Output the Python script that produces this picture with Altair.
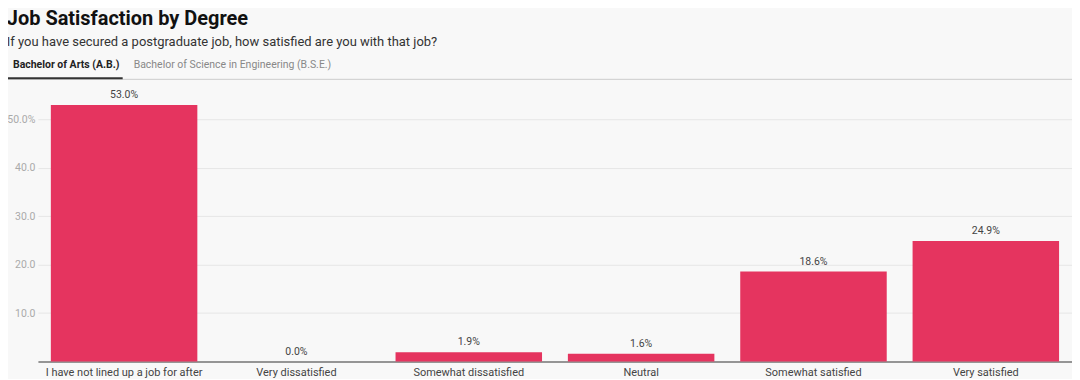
import altair as alt
import pandas as pd

categories = [
    "I have not lined up a job for after",
    "Very dissatisfied",
    "Somewhat dissatisfied",
    "Neutral",
    "Somewhat satisfied",
    "Very satisfied",
]
values = [53.0, 0.0, 1.9, 1.6, 18.6, 24.9]
tabs = ["Bachelor of Arts (A.B.)", "Bachelor of Science in Engineering (B.S.E.)"]
y_ticks = [10, 20, 30, 40, 50]

df = pd.DataFrame({"category": categories, "value": values})
tab1 = pd.DataFrame({"tab": [tabs[0]]})
tab2 = pd.DataFrame({"tab": [tabs[1]]})

FONT = "Roboto"
BAR = "#e5345f"

x_enc = alt.X(
    "category:N",
    sort=categories,
    scale=alt.Scale(paddingInner=0.15, paddingOuter=0.075),
    axis=alt.Axis(
        title=None, labelAngle=0, ticks=False, domainColor="#333333",
        domainWidth=1.2, labelColor="#444444", labelFontSize=11,
        labelFont=FONT, labelPadding=5, labelLimit=200,
    ),
)
y_enc = alt.Y(
    "value:Q",
    scale=alt.Scale(domain=[0, 55], nice=False),
    axis=alt.Axis(
        title=None, values=y_ticks, domain=False, ticks=False,
        gridColor="#e6e6e6", labelColor="#aaaaaa", labelFontSize=10.5,
        labelFont=FONT, labelPadding=3,
        labelExpr="datum.value == 50 ? '50.0%' : format(datum.value, '.1f')",
    ),
)

bars = alt.Chart(df).mark_bar(color=BAR).encode(x=x_enc, y=y_enc)

labels = alt.Chart(df).transform_calculate(
    label="format(datum.value, '.1f') + '%'"
).mark_text(
    baseline="bottom", dy=-5, fontSize=10.5, font=FONT, color="#444444"
).encode(x=alt.X("category:N", sort=categories), y="value:Q", text="label:N")

tab_a = alt.Chart(tab1).mark_text(
    align="left", baseline="middle", fontSize=10.5, fontWeight="bold",
    font=FONT, color="#222222"
).encode(x=alt.value(-25), y=alt.value(-30), text="tab:N")

tab_b = alt.Chart(tab2).mark_text(
    align="left", baseline="middle", fontSize=10.5, font=FONT, color="#888888"
).encode(x=alt.value(96), y=alt.value(-30), text="tab:N")

gray_line = alt.Chart(tab1).mark_rule(color="#cccccc", strokeWidth=1).encode(
    x=alt.value(-30), x2=alt.value(1037), y=alt.value(-16)
)
underline = alt.Chart(tab1).mark_rule(color="#333333", strokeWidth=2).encode(
    x=alt.value(-30), x2=alt.value(85), y=alt.value(-17)
)

chart = alt.layer(bars, labels, gray_line, underline, tab_a, tab_b).properties(
    width=1037,
    height=267,
    padding={"left": 30, "top": 87, "right": 0, "bottom": 17},
    autosize=alt.AutoSizeParams(type="none"),
    background="#f8f8f8",
    title=alt.TitleParams(
        text="Job Satisfaction by Degree",
        subtitle="If you have secured a postgraduate job, how satisfied are you with that job?",
        anchor="start",
        frame="bounds",
        font=FONT,
        fontSize=20,
        fontWeight="bold",
        color="#111111",
        subtitleFont=FONT,
        subtitleFontSize=13,
        subtitleColor="#333333",
        subtitlePadding=7,
        offset=11,
    ),
).configure_view(stroke=None)

chart.save("out.html", embed_options={"renderer": "svg", "actions": False})
